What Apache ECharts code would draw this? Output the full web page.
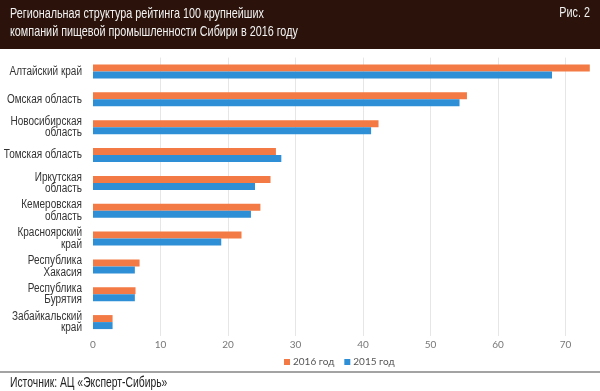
<!DOCTYPE html>
<html><head><meta charset="utf-8">
<script src="https://cdn.jsdelivr.net/npm/echarts@6/dist/echarts.min.js"></script>
<style>html,body{margin:0;padding:0;background:#fff}#c{width:600px;height:391px}</style>
</head><body><div id="c"></div>
<script>
var categories = ['Алтайский край','Омская область','Новосибирская\nобласть','Томская область','Иркутская\nобласть','Кемеровская\nобласть','Красноярский\nкрай','Республика\nХакасия','Республика\nБурятия','Забайкальский\nкрай'];
var values2016 = [73.6, 55.4, 42.3, 27.1, 26.3, 24.8, 22.0, 6.9, 6.3, 2.9];
var values2015 = [68.0, 54.3, 41.2, 27.9, 24.0, 23.4, 19.0, 6.2, 6.2, 2.9];
var seriesNames = ['2016 год', '2015 год'];
var xTicks = [0, 10, 20, 30, 40, 50, 60, 70];
var titleLines = ['Региональная структура рейтинга 100 крупнейших', 'компаний пищевой промышленности Сибири в 2016 году'];
var figLabel = 'Рис. 2';
var sourceText = 'Источник: АЦ «Эксперт-Сибирь»';

var sans = '"Liberation Sans",Arial,sans-serif';
var chart = echarts.init(document.getElementById('c'));
chart.setOption({
  animation: false,
  backgroundColor: '#fff',
  graphic: [
    {type:'rect', left:0, top:0, shape:{width:600, height:49}, style:{fill:'#2b130b'}, z:0},
    {type:'rect', left:0, top:371, shape:{width:600, height:2}, style:{fill:'#a3a3a3'}, z:0},
    {type:'text', x:10, y:5, scaleX:0.72, style:{text:titleLines.join('\n'), fill:'#f2f2f2', font:'15px ' + sans, lineHeight:18}, z:2},
    {type:'text', x:590, y:5, scaleX:0.72, style:{text:figLabel, fill:'#f2f2f2', font:'15px ' + sans, align:'right'}, z:2},
    {type:'text', x:10, y:375, scaleX:0.69, style:{text:sourceText, fill:'#222', font:'15px ' + sans}, z:2}
  ],
  legend: {
    data: seriesNames, left: 279, top: 352, itemWidth: 6, itemHeight: 6, itemGap: 10,
    icon: 'rect',
    textStyle: {color:'#555', fontSize:10, fontFamily:'Lato,sans-serif', padding:[0,0,0,-2]}
  },
  grid: {left: 93, top: 57.6, width: 499.5, height: 278.4, containLabel: false, outerBoundsMode: 'none'},
  xAxis: {
    type: 'value', min: 0, max: 74, interval: 10,
    axisLine: {show:false}, axisTick: {show:false},
    axisLabel: {color:'#777', fontSize:10, fontFamily:'Lato,sans-serif', margin:4, showMaxLabel:false,
      formatter: function(v){ return xTicks.indexOf(v) >= 0 ? String(v) : ''; }},
    splitLine: {show:true, showMinLine:false, showMaxLine:false, lineStyle:{color:'#e6e6e6', width:1}}
  },
  yAxis: {
    type: 'category', data: categories, inverse: true,
    axisLine: {show:false}, axisTick: {show:false},
    axisLabel: {show:false}
  },
  series: [
    {name: seriesNames[0], type:'bar', data: values2016, barWidth: 7, barGap: '0%', itemStyle:{color:'#f47a45'}},
    {name: seriesNames[1], type:'bar', data: values2015, barWidth: 7, barGap: '0%', itemStyle:{color:'#2e8fd6'}},
    {
      type: 'custom', silent: true,
      data: categories.map(function(c, i){ return [0, i]; }),
      renderItem: function(params, api){
        var pt = api.coord([api.value(0), api.value(1)]);
        return {type:'text', x: pt[0] - 11, y: pt[1], scaleX: 0.8,
          style:{text: categories[params.dataIndex], fill:'#333', font:'12.5px ' + sans, align:'right', verticalAlign:'middle', lineHeight:11.5}};
      }
    }
  ]
});
</script></body></html>
